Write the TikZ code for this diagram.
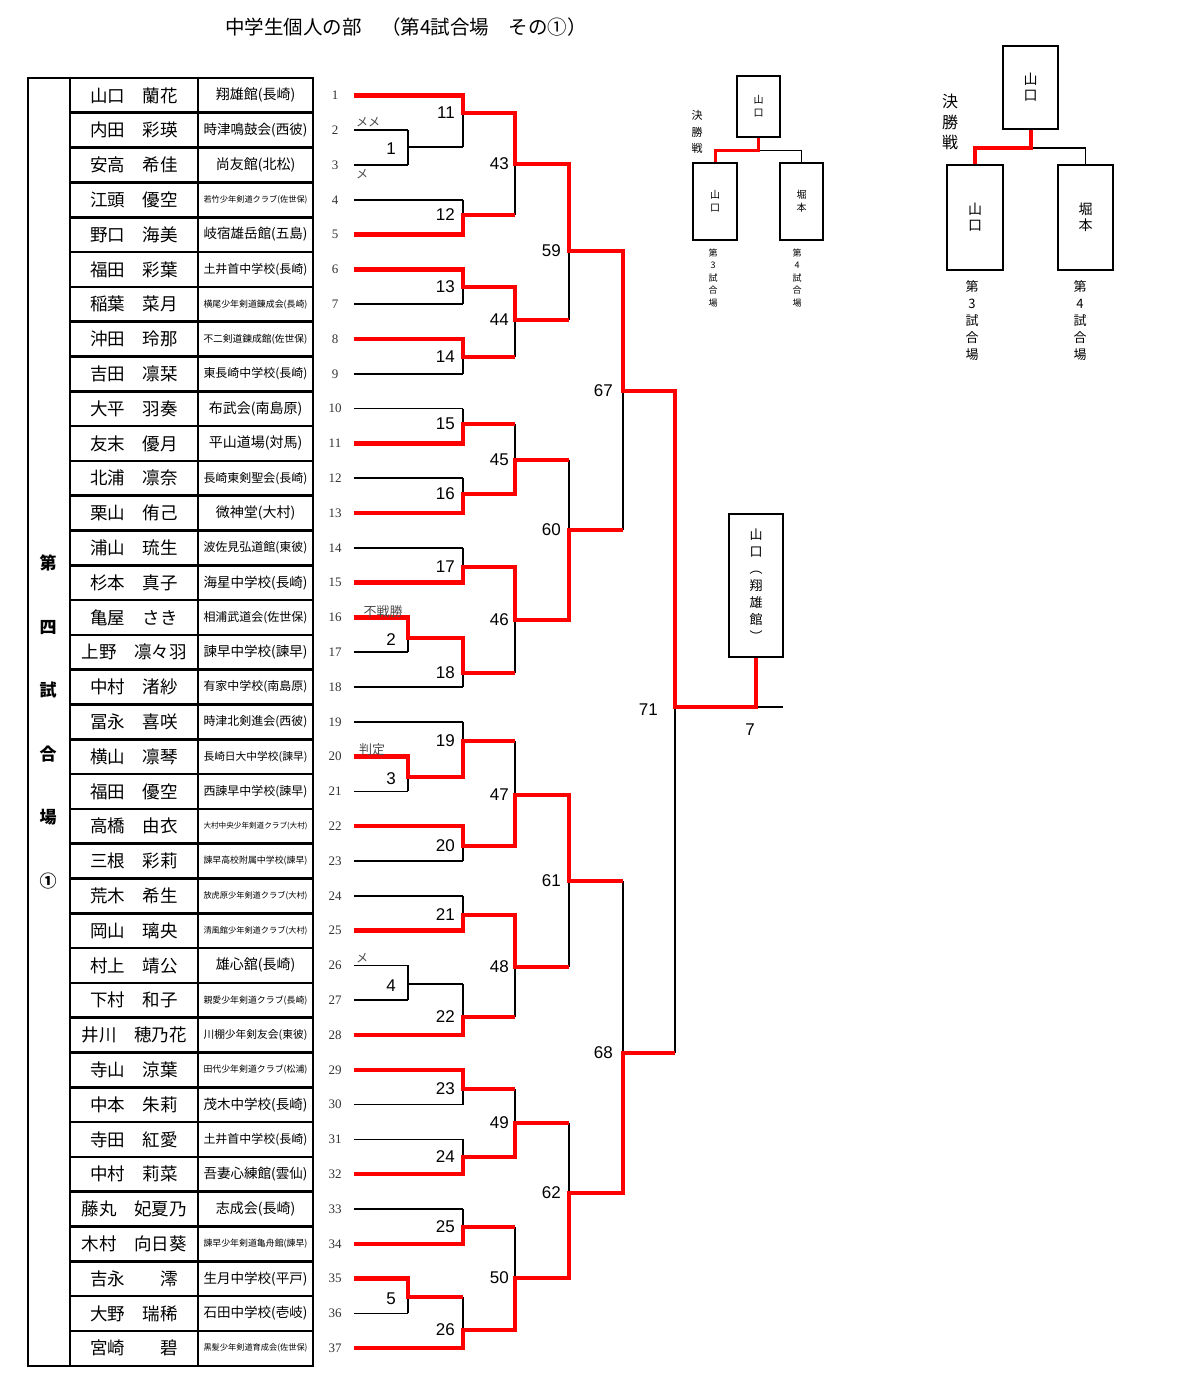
\documentclass[tikz,border=0pt]{standalone}
\usepackage{fontspec}
\usepackage{graphicx}
\setmainfont{Noto Sans CJK JP}
\newfontfamily\numfont{Liberation Serif}
\newfontfamily\lblfont{Liberation Sans}
\newsavebox\schbox
\newcommand\fitsch[1]{\sbox\schbox{#1}\ifdim\wd\schbox>104pt\resizebox{104pt}{!}{\usebox\schbox}\else\usebox\schbox\fi}
\tikzset{
  thinline/.style={draw=black, line width=1.6pt},
  winline/.style={draw=red, line width=4.5pt, line join=miter},
  tbl/.style={draw=black, line width=2.6pt},
  rowno/.style={font=\numfont\fontsize{13}{13}\selectfont, text=black!80, inner sep=0pt},
  namecell/.style={font=\fontsize{17.5}{18}\selectfont, inner sep=0pt},
  schcell/.style={font=\fontsize{14}{15}\selectfont, inner sep=0pt},
  mlabel/.style={font=\lblfont\fontsize{17}{17}\selectfont, anchor=east, inner sep=0pt},
  note/.style={font=\fontsize{12}{12}\selectfont, text=black!70, inner sep=0pt},
  vbox/.style={draw=black, line width=1.6pt, align=center, inner sep=0pt},
  vtext/.style={align=center, inner sep=0pt}
}
\begin{document}
\begin{tikzpicture}[x=1pt,y=-1pt]
\useasboundingbox (0,0) rectangle (1176,1386);
\node[font=\fontsize{19.5}{20}\selectfont] (title) at (406,27) {中学生個人の部　（第4試合場　その①）};

\draw[tbl] (28,78) rectangle (313,1366);
\draw[tbl] (70,78) -- (70,1366) (198,78) -- (198,1366);
\foreach \i in {1,...,36} \draw[tbl] (70,{78+34.8*\i}) -- (313,{78+34.8*\i});
\node[vtext, font=\bfseries\fontsize{17}{63.6}\selectfont] (venue) at (48,722) {第\\四\\試\\合\\場\\①};

\foreach \nm [count=\i] in {山口　蘭花,内田　彩瑛,安高　希佳,江頭　優空,野口　海美,福田　彩葉,稲葉　菜月,沖田　玲那,吉田　凛栞,大平　羽奏,友末　優月,北浦　凛奈,栗山　侑己,浦山　琉生,杉本　真子,亀屋　さき,上野　凛々羽,中村　渚紗,冨永　喜咲,横山　凛琴,福田　優空,高橋　由衣,三根　彩莉,荒木　希生,岡山　璃央,村上　靖公,下村　和子,井川　穂乃花,寺山　涼葉,中本　朱莉,寺田　紅愛,中村　莉菜,藤丸　妃夏乃,木村　向日葵,吉永　　澪,大野　瑞稀,宮崎　　碧}
  \node[namecell] (nm\i) at (134,{95.4+34.8*(\i-1)}) {\nm};
\foreach \sc [count=\i] in {翔雄館(長崎),時津鳴鼓会(西彼),尚友館(北松),若竹少年剣道クラブ(佐世保),岐宿雄岳館(五島),土井首中学校(長崎),横尾少年剣道錬成会(長崎),不二剣道錬成館(佐世保),東長崎中学校(長崎),布武会(南島原),平山道場(対馬),長崎東剣聖会(長崎),微神堂(大村),波佐見弘道館(東彼),海星中学校(長崎),相浦武道会(佐世保),諫早中学校(諫早),有家中学校(南島原),時津北剣進会(西彼),長崎日大中学校(諫早),西諫早中学校(諫早),大村中央少年剣道クラブ(大村),諫早高校附属中学校(諫早),放虎原少年剣道クラブ(大村),清風館少年剣道クラブ(大村),雄心舘(長崎),親愛少年剣道クラブ(長崎),川棚少年剣友会(東彼),田代少年剣道クラブ(松浦),茂木中学校(長崎),土井首中学校(長崎),吾妻心練館(雲仙),志成会(長崎),諫早少年剣道亀舟館(諫早),生月中学校(平戸),石田中学校(壱岐),黒髪少年剣道育成会(佐世保)}
  \node[schcell] (sc\i) at (255.5,{95.4+34.8*(\i-1)}) {\fitsch{\sc}};
\foreach \i in {1,...,37} {
  \node[rowno] (n\i) at (335,{95.4+34.8*(\i-1)}) {\i};
  \coordinate (r\i) at (354,{95.4+34.8*(\i-1)});
}

\foreach \k/\y in {1/147,2/638,3/777,4/984,5/1297} \coordinate (m\k) at (408,\y);
\foreach \k/\y in {11/113,12/215,13/287,14/357,15/424,16/494,17/567,18/673,19/741,20/846,21/915,22/1017,23/1089,24/1157,25/1227,26/1330} \coordinate (m\k) at (463,\y);
\foreach \k/\y in {43/164,44/320,45/460,46/620,47/795,48/967,49/1123,50/1278} \coordinate (m\k) at (515,\y);
\foreach \k/\y in {59/251,60/530,61/881,62/1193} \coordinate (m\k) at (569,\y);
\foreach \k/\y in {67/391,68/1053} \coordinate (m\k) at (623,\y);
\coordinate (m71) at (675,707);
\coordinate (end7) at (783,707);

\node[vbox, minimum width=54pt, minimum height=143pt, font=\fontsize{13}{17}\selectfont] (fin) at (756,585.5) {山\\口\\︵\\翔\\雄\\館\\︶};

\foreach \i in {1,4,5,6,7,8,9,10,11,12,13,14,15,18,19,22,23,24,25,28,29,30,31,32,33,34,37} \draw[thinline] (r\i) -- (r\i -| m11);
\foreach \i in {2,3,16,17,20,21,26,27,35,36} \draw[thinline] (r\i) -- (r\i -| m1);
\foreach \k/\a/\b in {1/r2/r3,2/r16/r17,3/r20/r21,4/r26/r27,5/r35/r36,11/r1/m1,12/r4/r5,13/r6/r7,14/r8/r9,15/r10/r11,16/r12/r13,17/r14/r15,18/m2/r18,19/r19/m3,20/r22/r23,21/r24/r25,22/m4/r28,23/r29/r30,24/r31/r32,25/r33/r34,26/m5/r37,43/m11/m12,44/m13/m14,45/m15/m16,46/m17/m18,47/m19/m20,48/m21/m22,49/m23/m24,50/m25/m26,59/m43/m44,60/m45/m46,61/m47/m48,62/m49/m50,67/m59/m60,68/m61/m62,71/m67/m68}
  \draw[thinline] (\a -| m\k) -- (\b -| m\k);
\foreach \k/\n in {1/11,2/18,3/19,4/22,5/26,11/43,12/43,13/44,14/44,15/45,16/45,17/46,18/46,19/47,20/47,21/48,22/48,23/49,24/49,25/50,26/50,43/59,44/59,45/60,46/60,47/61,48/61,49/62,50/62,59/67,60/67,61/68,62/68,67/71,68/71}
  \draw[thinline] (m\k) -- (m\k -| m\n);
\draw[thinline] (m71) -- (end7);

\draw[winline] (r1) -| (m11) -| (m43) -| (m59) -| (m67) -| (m71) -| (fin.south);
\draw[winline] (r5) -| (m12) -- (m12 -| m43);
\draw[winline] (r6) -| (m13) -| (m44) -- (m44 -| m59);
\draw[winline] (r8) -| (m14) -- (m14 -| m44);
\draw[winline] (r11) -| (m15) -- (m15 -| m45);
\draw[winline] (r13) -| (m16) -| (m45) -- (m45 -| m60);
\draw[winline] (r15) -| (m17) -| (m46) -| (m60) -- (m60 -| m67);
\draw[winline] (r16) -| (m2) -| (m18) -- (m18 -| m46);
\draw[winline] (r20) -| (m3) -| (m19) -- (m19 -| m47);
\draw[winline] (r22) -| (m20) -| (m47) -| (m61) -- (m61 -| m68);
\draw[winline] (r25) -| (m21) -| (m48) -- (m48 -| m61);
\draw[winline] (r28) -| (m22) -- (m22 -| m48);
\draw[winline] (r29) -| (m23) -- (m23 -| m49);
\draw[winline] (r32) -| (m24) -| (m49) -- (m49 -| m62);
\draw[winline] (r34) -| (m25) -- (m25 -| m50);
\draw[winline] (r35) -| (m5) -- (m5 -| m26);
\draw[winline] (r37) -| (m26) -| (m50) -| (m62) -| (m68) -- (m68 -| m71);

\foreach \k in {1,...,5} \node[mlabel] (lb\k) at ([xshift=-12pt,yshift=-2pt]m\k) {\k};
\foreach \k in {11,...,26} \node[mlabel] (lb\k) at ([xshift=-8pt]m\k) {\k};
\foreach \k in {43,...,50} \node[mlabel] (lb\k) at ([xshift=-6pt]m\k) {\k};
\foreach \k in {59,...,62} \node[mlabel] (lb\k) at ([xshift=-8pt]m\k) {\k};
\foreach \k in {67,68} \node[mlabel] (lb\k) at ([xshift=-10pt]m\k) {\k};
\node[mlabel] (lb71) at ([xshift=-17pt,yshift=-3pt]m71) {71};
\node[mlabel, anchor=center] (lb7) at (750,730) {7};

\node[note] (a1) at (368,122) {メメ};
\node[note] (a2) at (362,174) {メ};
\node[note, font=\fontsize{13}{13}\selectfont] (a3) at (383,612) {不戦勝};
\node[note, font=\fontsize{13}{13}\selectfont] (a4) at (372,750) {判定};
\node[note] (a5) at (362,958) {メ};

\node[vbox, line width=1.2pt, minimum width=43pt, minimum height=61pt, font=\fontsize{10}{13}\selectfont] (st) at (758.5,106.5) {山\\口};
\node[vbox, line width=1.2pt, minimum width=44pt, minimum height=77pt, font=\fontsize{10}{13}\selectfont] (sl) at (715,201.5) {山\\口};
\node[vbox, line width=1.2pt, minimum width=43pt, minimum height=77pt, font=\fontsize{10}{13}\selectfont] (sr) at (801.5,201.5) {堀\\本};
\draw[thinline, line width=1.2pt] (st.south) ++(0,13) -| (sr.north);
\draw[winline, line width=3pt] (st.south) -- ++(0,13) -| (sl.north);
\node[vtext, font=\fontsize{11}{16.5}\selectfont] (sfs) at (697,132) {決\\勝\\戦};
\node[vtext, font=\fontsize{9}{12.5}\selectfont] (s3) at (713,278) {第\\3\\試\\合\\場};
\node[vtext, font=\fontsize{9}{12.5}\selectfont] (s4) at (797,278) {第\\4\\試\\合\\場};

\node[vbox, minimum width=55pt, minimum height=83pt, font=\fontsize{14}{16}\selectfont] (bt) at (1030.5,87.5) {山\\口};
\node[vbox, minimum width=56pt, minimum height=105pt, font=\fontsize{14}{16}\selectfont] (bl) at (975,217.5) {山\\口};
\node[vbox, minimum width=55pt, minimum height=105pt, font=\fontsize{14}{16}\selectfont] (br) at (1085.5,217.5) {堀\\本};
\draw[thinline] (bt.south) ++(0,18) -| (br.north);
\draw[winline, line width=4pt] (bt.south) -- ++(0,18) -| (bl.north);
\node[vtext, font=\fontsize{16}{20.5}\selectfont] (bfs) at (950,122) {決\\勝\\戦};
\node[vtext, font=\fontsize{13}{17}\selectfont] (b3) at (972,321) {第\\3\\試\\合\\場};
\node[vtext, font=\fontsize{13}{17}\selectfont] (b4) at (1080,321) {第\\4\\試\\合\\場};
\end{tikzpicture}
\end{document}
